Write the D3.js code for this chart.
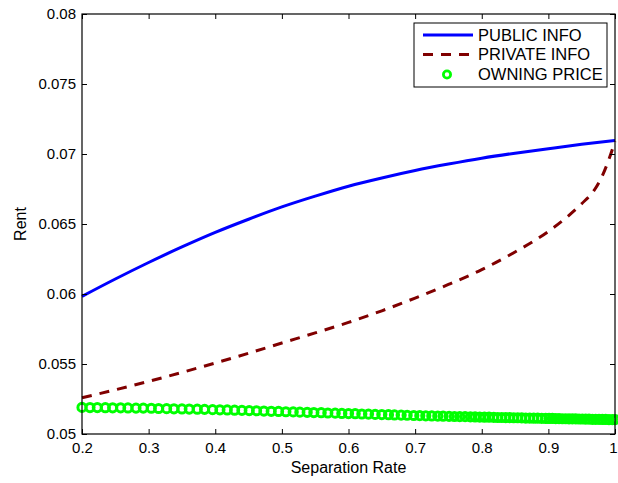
<!DOCTYPE html>
<html>
<head>
<meta charset="utf-8">
<script src="https://cdn.jsdelivr.net/npm/d3@7"></script>
<style>
  html, body { margin: 0; padding: 0; background: #fff; }
  svg text { font-family: "Liberation Sans", Arial, Helvetica, sans-serif; }
</style>
</head>
<body>
<svg id="chart" width="618" height="483"></svg>
<script>
// ---- data ----
const lineX = [0.2, 0.25, 0.3, 0.35, 0.4, 0.45, 0.5, 0.55, 0.6, 0.65, 0.7, 0.75, 0.8, 0.85, 0.9, 0.95, 1.0];
const publicInfo = [0.05983, 0.06107, 0.06225, 0.06336, 0.06440, 0.06534, 0.06622, 0.06699, 0.06770, 0.06829, 0.06882, 0.06928, 0.06970, 0.07006, 0.07038, 0.07069, 0.07097];

const privateX = [0.2, 0.25, 0.3, 0.35, 0.4, 0.45, 0.5, 0.55, 0.6, 0.65, 0.7, 0.75, 0.8, 0.85, 0.9, 0.925, 0.95, 0.97, 0.98, 0.99, 1.0];
const privateInfo = [0.05259, 0.05316, 0.05376, 0.05440, 0.05507, 0.05577, 0.05650, 0.05722, 0.05797, 0.05880, 0.05971, 0.06068, 0.06174, 0.06300, 0.06447, 0.06538, 0.06645, 0.06750, 0.06835, 0.06950, 0.07090];

const owningX = [0.200,0.212,0.223,0.235,0.246,0.258,0.269,0.281,0.292,0.304,0.315,0.327,0.338,0.350,0.361,0.373,0.384,0.396,0.407,0.418,0.429,0.440,0.451,0.462,0.473,0.484,0.495,
  0.506,0.517,0.527,0.538,0.548,0.559,0.569,0.580,0.590,0.600,0.610,0.620,0.630,0.640,0.650,0.660,0.669,0.679,0.688,0.698,
  0.707,0.716,0.725,0.734,0.742,0.751,0.759,0.767,0.775,0.783,0.790,0.797,
  0.804,0.811,0.818,0.824,0.830,0.836,0.842,0.848,0.854,0.860,0.866,0.872,0.878,0.884,0.890,0.896,
  0.901,0.906,0.911,0.916,0.921,0.926,0.931,0.936,0.941,0.946,0.951,0.956,0.961,0.966,0.971,0.976,0.981,0.986,0.991,0.996,1.000];
const owningPrice = [0.05190,0.05189,0.05189,0.05188,0.05187,0.05187,0.05186,0.05185,0.05185,0.05184,0.05182,0.05181,0.05180,0.05179,0.05178,0.05177,0.05176,0.05174,0.05173,0.05172,0.05170,0.05169,0.05167,0.05166,0.05164,0.05162,0.05161,
  0.05159,0.05158,0.05156,0.05155,0.05153,0.05152,0.05150,0.05149,0.05147,0.05146,0.05145,0.05143,0.05142,0.05140,0.05139,0.05138,0.05136,0.05135,0.05134,0.05132,
  0.05131,0.05130,0.05129,0.05128,0.05127,0.05126,0.05125,0.05124,0.05124,0.05123,0.05122,0.05121,
  0.05120,0.05120,0.05119,0.05118,0.05118,0.05117,0.05117,0.05116,0.05116,0.05115,0.05114,0.05114,0.05113,0.05113,0.05112,0.05111,
  0.05111,0.05111,0.05110,0.05110,0.05109,0.05109,0.05108,0.05108,0.05108,0.05107,0.05107,0.05106,0.05106,0.05105,0.05105,0.05105,0.05104,0.05104,0.05103,0.05103,0.05103];

const xTicks = [0.2, 0.3, 0.4, 0.5, 0.6, 0.7, 0.8, 0.9, 1];
const xTickLabels = ["0.2", "0.3", "0.4", "0.5", "0.6", "0.7", "0.8", "0.9", "1"];
const yTicks = [0.05, 0.055, 0.06, 0.065, 0.07, 0.075, 0.08];
const yTickLabels = ["0.05", "0.055", "0.06", "0.065", "0.07", "0.075", "0.08"];
const seriesNames = ["PUBLIC INFO", "PRIVATE INFO", "OWNING PRICE"];
const xLabel = "Separation Rate";
const yLabel = "Rent";

// ---- layout ----
const L = 82, R = 615, T = 14, B = 434;
const svg = d3.select("#chart");
const x = d3.scaleLinear().domain([0.2, 1]).range([L, R]);
const y = d3.scaleLinear().domain([0.05, 0.08]).range([B, T]);

svg.append("rect").attr("x", 0).attr("y", 0).attr("width", 618).attr("height", 483).attr("fill", "#fff");

svg.append("clipPath").attr("id", "clip").append("rect")
  .attr("x", L - 8).attr("y", T - 8).attr("width", R - L + 16).attr("height", B - T + 16);

const g = svg.append("g").attr("clip-path", "url(#clip)");

// lines
const lineGen = d3.line().curve(d3.curveMonotoneX);
g.append("path")
  .attr("d", lineGen(lineX.map((v, i) => [x(v), y(publicInfo[i])])))
  .attr("fill", "none").attr("stroke", "#0000ff").attr("stroke-width", 3);

g.append("path")
  .attr("d", lineGen(privateX.map((v, i) => [x(v), y(privateInfo[i])])))
  .attr("fill", "none").attr("stroke", "#800000").attr("stroke-width", 3)
  .attr("stroke-dasharray", "10,8");

g.selectAll("circle.own").data(owningX).enter().append("circle")
  .attr("class", "own")
  .attr("cx", d => x(d))
  .attr("cy", (d, i) => y(owningPrice[i]))
  .attr("r", 4.1)
  .attr("fill", "none").attr("stroke", "#00ff00").attr("stroke-width", 3);

// axes
const fs = 15;
const axB = d3.axisBottom(x).tickValues(xTicks).tickSize(-5).tickSizeOuter(0).tickFormat((d, i) => xTickLabels[i]).tickPadding(8);
const axT = d3.axisTop(x).tickValues(xTicks).tickSize(-5).tickSizeOuter(0).tickFormat("");
const axLft = d3.axisLeft(y).tickValues(yTicks).tickSize(-5).tickSizeOuter(0).tickFormat((d, i) => yTickLabels[i]).tickPadding(6);
const axRt = d3.axisRight(y).tickValues(yTicks).tickSize(-5).tickSizeOuter(0).tickFormat("");

function style(sel) {
  sel.select(".domain").remove();
  sel.selectAll("line").attr("stroke", "#000").attr("stroke-width", 1);
  sel.selectAll("text").attr("font-size", fs).attr("fill", "#000").attr("font-family", "Liberation Sans, Arial, sans-serif");
}
const gB = svg.append("g").attr("transform", `translate(0,${B})`).call(axB).call(style);
// keep the last label ("1") inside the window
gB.selectAll(".tick text").filter((d, i) => i === xTicks.length - 1).attr("text-anchor", "end").attr("dx", 2);
svg.append("g").attr("transform", `translate(0,${T})`).call(axT).call(style);
svg.append("g").attr("transform", `translate(${L},0)`).call(axLft).call(style);
svg.append("g").attr("transform", `translate(${R},0)`).call(axRt).call(style);

// box
svg.append("rect").attr("x", L).attr("y", T).attr("width", R - L).attr("height", B - T)
  .attr("fill", "none").attr("stroke", "#000").attr("stroke-width", 1.2);

// axis labels
svg.append("text").attr("x", (L + R) / 2).attr("y", 473).attr("text-anchor", "middle")
  .attr("font-size", 16).text(xLabel);
svg.append("text").attr("transform", `translate(26,${(T + B) / 2}) rotate(-90)`).attr("text-anchor", "middle")
  .attr("font-size", 16).text(yLabel);

// legend
const lg = svg.append("g");
lg.append("rect").attr("x", 414).attr("y", 23).attr("width", 193).attr("height", 64)
  .attr("fill", "#fff").attr("stroke", "#000").attr("stroke-width", 1);
const rows = [35, 54.5, 74.5];
lg.append("line").attr("x1", 423).attr("x2", 473).attr("y1", rows[0]).attr("y2", rows[0])
  .attr("stroke", "#0000ff").attr("stroke-width", 3);
lg.append("line").attr("x1", 423).attr("x2", 473).attr("y1", rows[1]).attr("y2", rows[1])
  .attr("stroke", "#800000").attr("stroke-width", 3).attr("stroke-dasharray", "10,8");
lg.append("circle").attr("cx", 447).attr("cy", rows[2]).attr("r", 3.6)
  .attr("fill", "none").attr("stroke", "#00ff00").attr("stroke-width", 2.8);
seriesNames.forEach((n, i) => {
  lg.append("text").attr("x", 478).attr("y", rows[i]).attr("dy", "0.36em")
    .attr("font-size", 16.5).text(n);
});
</script>
</body>
</html>
